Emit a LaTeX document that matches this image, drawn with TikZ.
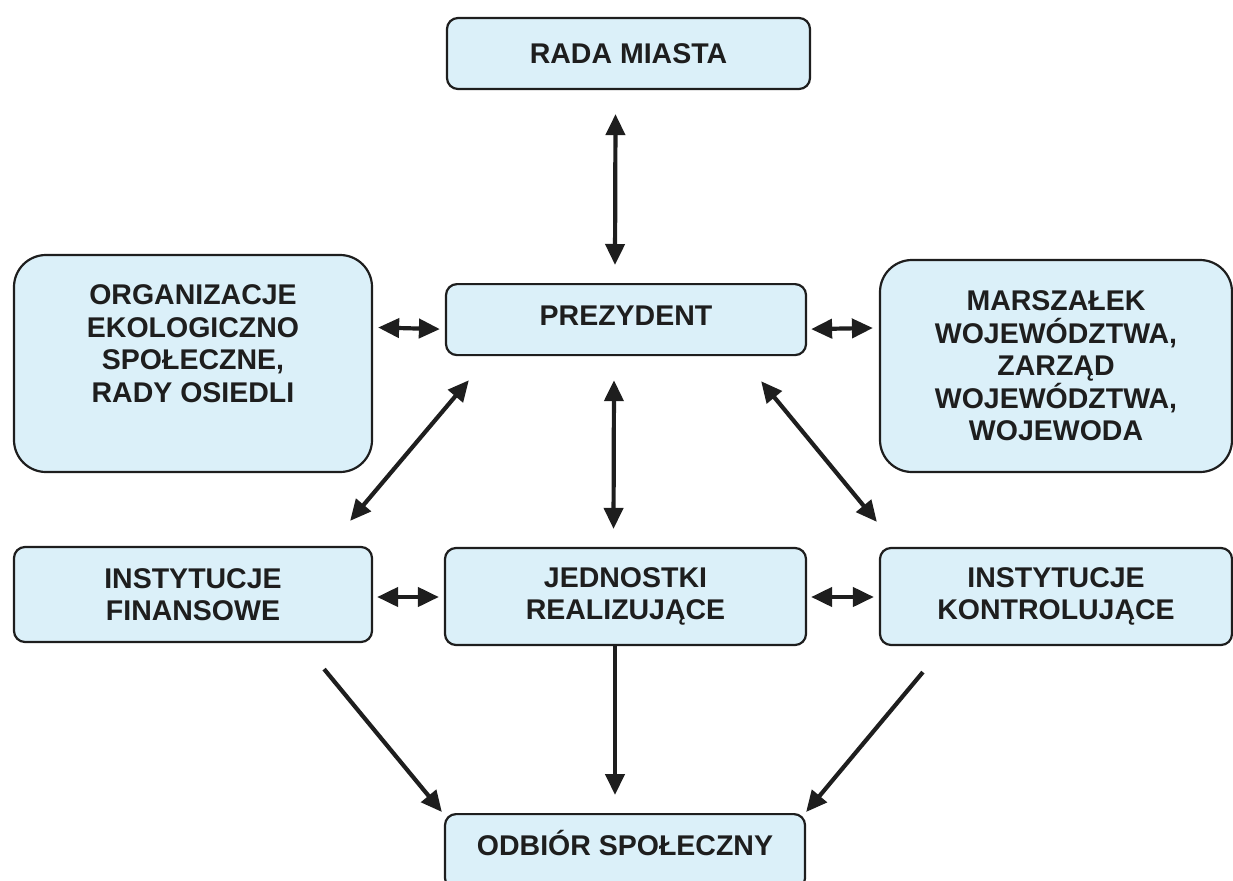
\documentclass[tikz,border=0pt]{standalone}
\usepackage{fontspec}
\setmainfont{Liberation Sans}
\usetikzlibrary{arrows.meta,calc}
\definecolor{boxfill}{RGB}{219,240,249}
\definecolor{ink}{RGB}{30,30,30}
\begin{document}
\begin{tikzpicture}[x=1pt,y=-1pt,
  txt/.style={text=ink, align=center, inner sep=0pt, font=\bfseries\fontsize{28.5}{32.5}\selectfont},
  box/.style={txt, draw=ink, line width=2.2pt, fill=boxfill, rounded corners=11pt},
  bigbox/.style={box, rounded corners=32pt},
  con/.style={draw=ink, line width=4.2pt},
  dbl/.style={con, {Triangle[length=21pt,width=19pt]}-{Triangle[length=21pt,width=19pt]}},
  one/.style={con, -{Triangle[length=21pt,width=19pt]}},
]
\useasboundingbox (0,0) rectangle (1233,880);

\node[box, minimum width=363pt, minimum height=71pt] (rada) at (628.5,53.5) {RADA MIASTA};
\node[box, minimum width=360pt, text height=41pt, text depth=30pt, anchor=north] (prez) at (626,283) {PREZYDENT};
\node[bigbox, minimum width=358pt, minimum height=217pt] (org) at (193,363.5) {};
\node[txt] (orgtext) at ($(org.center)+(0,-20)$) {ORGANIZACJE\\EKOLOGICZNO\\SPOŁECZNE,\\RADY OSIEDLI};
\node[bigbox, minimum width=352pt, minimum height=212pt] (marsz) at (1056,366) {MARSZAŁEK\\WOJEWÓDZTWA,\\ZARZĄD\\WOJEWÓDZTWA,\\WOJEWODA};
\node[box, minimum width=358pt, minimum height=95pt] (fin) at (193,594.5) {INSTYTUCJE\\FINANSOWE};
\node[box, minimum width=361pt, minimum height=97pt] (jedn) at (625.5,596.5) {JEDNOSTKI\\REALIZUJĄCE};
\node[box, minimum width=352pt, minimum height=97pt] (kontr) at (1056,596.5) {INSTYTUCJE\\KONTROLUJĄCE};
\node[box, minimum width=360pt, text height=41pt, text depth=34pt, anchor=north] (odb) at (625,813) {ODBIÓR SPOŁECZNY};

% connectors
\draw[dbl] ($(rada.south)+(-13,24)$) -- ($(prez.north)+(-11,-18)$);
\draw[dbl] ($(org.east)+(5,-36)$) -- ($(prez.west)+(-5,9.5)$);
\draw[dbl] ($(prez.east)+(4,9.5)$) -- ($(marsz.west)+(-6,-38)$);
\draw[dbl] ($(prez.south)+(-12,24)$) -- ($(jedn.north)+(-12,-18)$);
\draw[dbl] ($(fin.north east)+(-23,-25)$) -- ($(prez.south west)+(24,24)$);
\draw[dbl] ($(prez.south east)+(-46,25)$) -- ($(kontr.north west)+(-2,-25)$);
\draw[dbl] ($(fin.east)+(4,2.5)$) -- ($(jedn.west)+(-5,0.5)$);
\draw[dbl] ($(jedn.east)+(4,0.5)$) -- ($(kontr.west)+(-5,0.5)$);
\draw[one] ($(fin.south east)+(-49,26)$) -- ($(odb.north west)+(-2,-1)$);
\draw[one] ($(jedn.south)+(-10.5,0)$) -- ($(odb.north)+(-10,-18)$);
\draw[one] ($(kontr.south west)+(44,26)$) -- ($(odb.north east)+(0,-1)$);
\end{tikzpicture}
\end{document}
